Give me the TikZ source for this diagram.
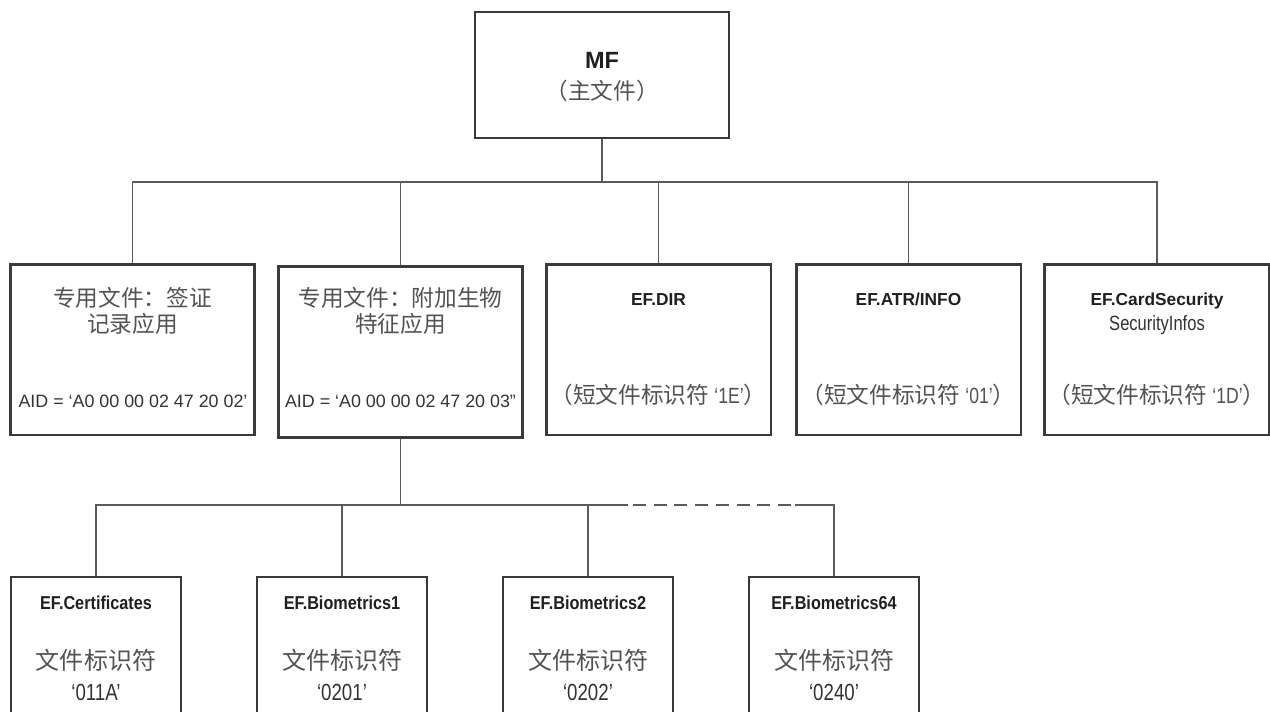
\documentclass[tikz,border=0pt]{standalone}
\usepackage{fontspec}
\setmainfont{Liberation Sans}
\newfontfamily\narrow[FakeStretch = 0.8]{Liberation Sans}
\newfontfamily\semi[FakeStretch = 0.87]{Liberation Sans}
\newfontfamily\cjk{Noto Sans CJK SC}
\usetikzlibrary{positioning}
\definecolor{boxgray}{HTML}{3A3A3A}
\definecolor{linkgray}{HTML}{5A5A5A}
\newcommand{\sfiquote}[1]{{\fontsize{16.5}{18}\selectfont\narrow‘#1’}}

\begin{document}
\begin{tikzpicture}[x = 0.75pt, y = -0.75pt,
	filebox/.style = {draw = boxgray, line width = 2pt, inner sep = 0pt},
	rootbox/.style = {filebox, minimum width = 190.5pt, minimum height = 94.5pt},
	appbox/.style = {filebox, minimum width = 183pt, minimum height = 128pt},
	efbox/.style = {filebox, minimum width = 168.5pt, minimum height = 128pt},
	leafbox/.style = {filebox, minimum width = 127.5pt, minimum height = 150pt},
	link/.style = {draw = linkgray, line width = 1.1pt},
	title/.style = {anchor = base, text = black!88, font = \fontsize{13}{15}\selectfont\bfseries},
	leaftitle/.style = {title, font = \fontsize{14}{16}\selectfont\semi\bfseries},
	zh/.style = {anchor = base, text = black!68, font = \fontsize{17}{20}\selectfont\cjk},
	leafzh/.style = {zh, font = \fontsize{18}{20}\selectfont\cjk},
	plain/.style = {anchor = base, text = black!80, font = \fontsize{13.4}{16}\selectfont},
	fid/.style = {plain, font = \fontsize{17.5}{20}\selectfont\narrow}]
	\useasboundingbox (0, 0) rectangle (1270, 711);
	\clip (0, 0) rectangle (1270, 711);
	% boxes
	\node[rootbox] (mf) at (602, 75) {};
	\node[appbox] (visa) at (132.5, 349.5) {};
	\node[appbox] (bio) at (400.5, 352) {};
	\node[efbox] (dir) at (658.5, 349.5) {};
	\node[efbox] (atr) at (908.5, 349.5) {};
	\node[efbox] (card) at (1157, 349.5) {};
	\node[leafbox] (cert) at (96, 677) {};
	\node[leafbox] (bioa) at (342, 677) {};
	\node[leafbox] (biob) at (588, 677) {};
	\node[leafbox] (bioz) at (834, 677) {};
	% texts
	\node[title, font = \fontsize{17.6}{20}\selectfont\bfseries] (mf-name) at (602, 68) {MF};
	\node[zh] (mf-zh) at (602, 99) {（主文件）};
	\node[zh] (visa-a) at (132.5, 306) {专用文件：签证};
	\node[zh] (visa-b) at (132.5, 332) {记录应用};
	\node[plain] (visa-aid) at (133, 407) {AID = ‘A0 00 00 02 47 20 02’};
	\node[zh] (bio-a) at (400.5, 306) {专用文件：附加生物};
	\node[zh] (bio-b) at (400.5, 332) {特征应用};
	\node[plain] (bio-aid) at (400.5, 407) {AID = ‘A0 00 00 02 47 20 03”};
	\node[title] (dir-name) at (658.5, 305) {EF.DIR};
	\node[zh] (dir-sfi) at (658.5, 403) {（短文件标识符 \sfiquote{1E}）};
	\node[title] (atr-name) at (908.5, 305) {EF.ATR/INFO};
	\node[zh] (atr-sfi) at (908.5, 403) {（短文件标识符 \sfiquote{01}）};
	\node[title] (card-name) at (1157, 305) {EF.CardSecurity};
	\node[plain, font = \fontsize{15.5}{18}\selectfont\narrow] (card-info) at (1157, 330) {SecurityInfos};
	\node[zh] (card-sfi) at (1157, 403) {（短文件标识符 \sfiquote{1D}）};
	\node[leaftitle] (cert-name) at (96, 609) {EF.Certificates};
	\node[leafzh] (cert-zh) at (96, 669) {文件标识符};
	\node[fid] (cert-fid) at (96, 700) {‘011A’};
	\node[leaftitle] (bioa-name) at (342, 609) {EF.Biometrics1};
	\node[leafzh] (bioa-zh) at (342, 669) {文件标识符};
	\node[fid] (bioa-fid) at (342, 700) {‘0201’};
	\node[leaftitle] (biob-name) at (588, 609) {EF.Biometrics2};
	\node[leafzh] (biob-zh) at (588, 669) {文件标识符};
	\node[fid] (biob-fid) at (588, 700) {‘0202’};
	\node[leaftitle] (bioz-name) at (834, 609) {EF.Biometrics64};
	\node[leafzh] (bioz-zh) at (834, 669) {文件标识符};
	\node[fid] (bioz-fid) at (834, 700) {‘0240’};
	% connectors
	\coordinate (hub) at (602, 182);
	\coordinate (subhub) at (400.5, 505);
	\draw[link] (mf.south) -- (hub);
	\foreach \child in {visa, bio, dir, atr, card}
		\draw[link] (hub) -| (\child.north);
	\draw[link] (bio.south) -- (subhub);
	\foreach \child in {cert, bioa, biob}
		\draw[link] (subhub) -| (\child.north);
	\coordinate (gap-a) at (628, 505);
	\coordinate (gap-b) at (795, 505);
	\draw[link] (biob.north |- gap-a) -- (gap-a);
	\draw[link, dash pattern = on 9.75pt off 5.8pt] (gap-a) ++(5, 0) -- (gap-b);
	\draw[link] (gap-b) -| (bioz.north);
\end{tikzpicture}
\end{document}
